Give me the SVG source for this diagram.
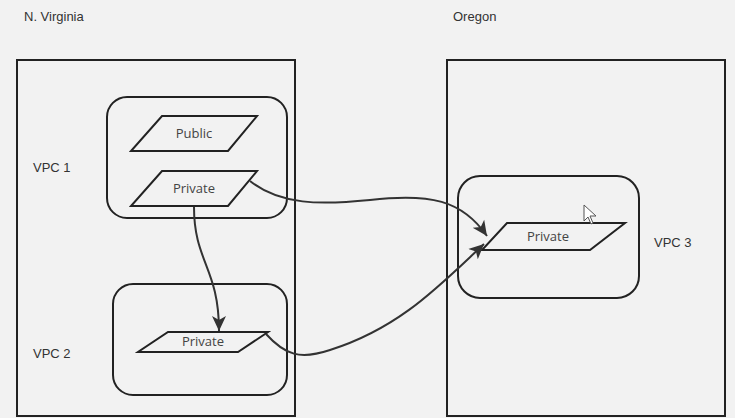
<svg xmlns="http://www.w3.org/2000/svg" width="735" height="418" viewBox="0 0 735 418">
<style>
.region{fill:none;stroke:#222;stroke-width:2}
.vpc{fill:none;stroke:#222;stroke-width:2}
.sub{fill:#f2f2f2;stroke:#222;stroke-width:2}
.lbl{font-family:"Liberation Sans",Arial,sans-serif;font-size:13px;fill:#333}
.st{font-family:"Open Sans","Noto Sans",sans-serif;font-size:13px;fill:#444;text-anchor:middle;dominant-baseline:central}
.conn{fill:none;stroke:#333;stroke-width:2}
</style>
<defs>
<marker id="arr" markerUnits="userSpaceOnUse" markerWidth="18" markerHeight="16" refX="15" refY="8" orient="auto">
<path d="M0,1 L15,8 L0,15 L4,8 Z" fill="#333"/>
</marker>
</defs>
<rect x="0" y="0" width="735" height="418" fill="#f2f2f2"/>
<g id="labels">
<text class="lbl" x="24" y="21">N. Virginia</text>
<text class="lbl" x="453" y="21">Oregon</text>
<text class="lbl" x="33" y="172">VPC 1</text>
<text class="lbl" x="33" y="358">VPC 2</text>
<text class="lbl" x="654" y="247">VPC 3</text>
</g>
<g id="region-nvirginia"><rect class="region" x="17" y="60" width="278" height="356"/></g>
<g id="region-oregon"><rect class="region" x="447" y="60" width="278" height="356"/></g>
<g id="vpc1"><rect class="vpc" x="107" y="97" width="180" height="121" rx="20"/></g>
<g id="vpc2"><rect class="vpc" x="113" y="284" width="174" height="111" rx="20"/></g>
<g id="vpc3"><rect class="vpc" x="458" y="176" width="181" height="122" rx="22"/></g>
<g id="vpc1-public">
<polygon class="sub" points="162,116 257,116 228,151 131,151"/>
<text class="st" x="194" y="133">Public</text>
</g>
<g id="vpc1-private">
<polygon class="sub" points="162,171 257,171 228,206 131,206"/>
<text class="st" x="194" y="188">Private</text>
</g>
<g id="vpc2-private">
<polygon class="sub" points="168,332 268,332 238,352 138,352"/>
<text class="st" x="203" y="341">Private</text>
</g>
<g id="vpc3-private">
<polygon class="sub" points="507,223 625,223 590,250 482,250"/>
<text class="st" x="548" y="236">Private</text>
</g>
<g id="connectors">
<path class="conn" d="M194,207 C194,262 219,268 219,331" marker-end="url(#arr)"/>
<path class="conn" d="M250,181 C280,205 320,205 370,200 C430,193 462,200 487,236" marker-end="url(#arr)"/>
<path class="conn" d="M266,334 C285,355 300,360 330,350 C400,328 440,285 484,244" marker-end="url(#arr)"/>
</g>
<g id="cursor">
<path d="M584,205 L584,221 L588,217 L591,224 L593,223 L590,216 L596,216 Z" fill="#fff" stroke="#555" stroke-width="1"/>
</g>
</svg>
